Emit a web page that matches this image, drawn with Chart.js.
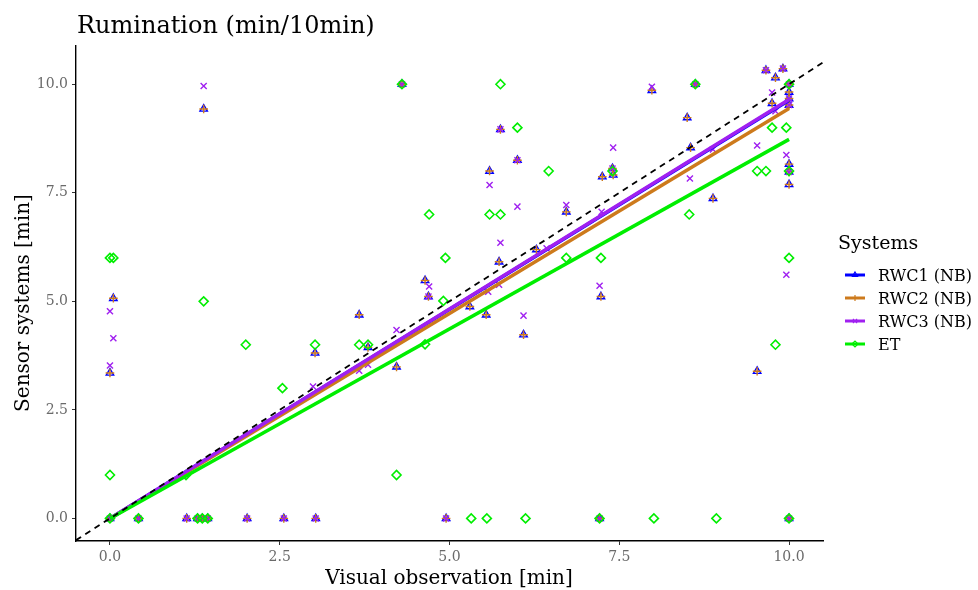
<!DOCTYPE html>
<html>
<head>
<meta charset="utf-8">
<script src="https://cdn.jsdelivr.net/npm/chart.js@4.4.0/dist/chart.umd.min.js"></script>
<style>
  html, body { margin: 0; padding: 0; background: #fff; }
  #wrap { width: 978px; height: 590px; position: relative; }
</style>
</head>
<body>
<div id="wrap"><canvas id="chart" width="978" height="590"></canvas></div>
<script>
// data
const rwc1X = [0,0.42,1.13,1.29,1.36,1.44,2.02,2.56,3.03,4.95,7.21,10, 0,0.05,1.38,3.02,3.67,3.80,4.22,4.30,4.64,4.69, 5.30,5.54,5.59,5.73,5.75,6.00,6.09,6.28,6.72,7.23, 7.25,7.40,7.41,7.98,8.50,8.55,8.62,8.88,9.53,9.66, 9.75,9.80,9.91,10,10,10,10,10,10,10];
const rwc1Y = [0,0,0,0,0,0,0,0,0,0,0,0, 3.35,5.07,9.43,3.81,4.69,3.94,3.49,10.0,5.48,5.11, 4.88,4.69,8.0,5.91,8.96,8.25,4.23,6.19,7.06,5.11, 7.87,8.06,7.91,9.86,9.23,8.54,10.0,7.37,3.39,10.32, 9.56,10.15,10.36,10.0,9.82,9.67,9.52,8.16,7.98,7.69];
const rwc2X = [0,0.42,1.13,1.29,1.36,1.44,2.02,2.56,3.03,4.95,7.21,10, 0,0.05,1.38,3.02,3.67,3.80,4.22,4.30,4.64,4.69, 5.30,5.54,5.59,5.73,5.75,6.00,6.09,6.28,6.72,7.23, 7.25,7.40,7.41,7.98,8.50,8.55,8.62,8.88,9.53,9.66, 9.75,9.80,9.91,10,10,10,10,10,10,10];
const rwc2Y = [0,0,0,0,0,0,0,0,0,0,0,0, 3.35,5.07,9.43,3.81,4.69,3.94,3.49,10.0,5.48,5.11, 4.88,4.69,8.0,5.91,8.96,8.25,4.23,6.19,7.06,5.11, 7.87,8.06,7.91,9.86,9.23,8.54,10.0,7.37,3.39,10.32, 9.56,10.15,10.36,10.0,9.82,9.67,9.52,8.16,7.98,7.69];
const rwc3X = [0,0.42,1.13,1.29,1.36,1.44,2.02,2.56,3.03,4.95,7.21,10, 0,0.05,0,1.38,2.99,3.67,3.80,4.22,4.30,4.70, 4.69,5.57,5.73,5.59,5.75,5.75,6.00,6.00,6.09,6.43, 6.72,7.21,7.24,7.41,7.40,7.98,8.54,8.62,8.88,9.53, 9.66,9.75,9.80,9.91,10,10,9.96,10,9.96,10];
const rwc3Y = [0,0,0,0,0,0,0,0,0,0,0,0, 4.77,4.15,3.52,9.96,3.04,3.40,3.54,4.34,10.0,5.34, 5.11,5.22,5.38,7.68,6.35,8.96,7.18,8.25,4.67,6.22, 7.22,5.36,7.06,8.54,8.06,9.94,7.83,10.0,8.50,8.59, 10.32,9.81,9.38,10.36,10.0,9.67,8.37,7.98,5.61,9.52];
const etX = [0,0.42,1.29,1.36,1.44,5.32,5.55,6.12,7.21,8.01,8.93,10, 0,0.05,0,1.12,1.38,2.00,2.54,3.02,3.67,3.80, 4.22,4.30,4.64,4.70,4.91,4.94,5.59,5.75,5.75,6.00, 6.46,6.72,7.23,7.40,8.53,8.62,9.53,9.66,9.75,9.80, 9.96,10,10,10];
const etY = [0,0,0,0,0,0,0,0,0,0,0,0, 6,6,1,1,5,4,3,4,4,4, 1,10,4.01,7,5.01,6,7,7,10,9, 8,6,6,8,7,10,8,8,9,4, 9,10,8,6];

// fitted lines through origin (values at x = 0 and x = 10)
const fitX = [0, 10];
const rwc1Fit = [0, 9.63];
const rwc2Fit = [0, 9.44];
const rwc3Fit = [0, 9.65];
const etFit = [0, 8.73];
const refX = [-0.5, 10.5];

const tickValues = [0, 2.5, 5, 7.5, 10];
const tickLabels = ['0.0', '2.5', '5.0', '7.5', '10.0'];
const seriesNames = ['RWC1 (NB)', 'RWC2 (NB)', 'RWC3 (NB)', 'ET'];
const seriesColors = ['#0000ff', '#cd7a1c', '#a020f0', '#00ee00'];
const seriesShapes = ['triangle', 'cross', 'crossRot', 'rectRot'];

const SERIF = '"DejaVu Serif", "Liberation Serif", serif';

function pts(xs, ys) { return xs.map((x, i) => ({x: x, y: ys[i]})); }

function scatterSet(i, xs, ys, order) {
  return {
    type: 'scatter', label: seriesNames[i], data: pts(xs, ys), order: order,
    pointStyle: seriesShapes[i], pointRadius: i === 3 ? 4.5 : 4.3,
    borderColor: seriesColors[i], backgroundColor: 'rgba(0,0,0,0)',
    pointBorderWidth: i === 3 ? 1.6 : 1.4
  };
}
function lineSet(i, fy, order) {
  return {
    type: 'line', label: seriesNames[i] + ' fit', data: pts(fitX, fy), order: order,
    borderColor: seriesColors[i], borderWidth: 3.5, pointRadius: 0, fill: false
  };
}

const legendAndTitles = {
  id: 'legendAndTitles',
  afterDraw(chart) {
    const c = chart.ctx;
    c.save();
    c.fillStyle = '#000';
    c.textBaseline = 'alphabetic';
    c.font = '24px ' + SERIF;
    c.textAlign = 'left';
    c.fillText('Rumination (min/10min)', 77, 33);

    c.font = '20px ' + SERIF;
    c.textAlign = 'center';
    c.fillText('Visual observation [min]', 449, 584);
    c.save();
    c.translate(29, 303);
    c.rotate(-Math.PI / 2);
    c.fillText('Sensor systems [min]', 0, 0);
    c.restore();

    // legend
    c.textAlign = 'left';
    c.font = '19px ' + SERIF;
    c.fillText('Systems', 838, 249);
    c.font = '16px ' + SERIF;
    seriesNames.forEach((name, i) => {
      const y = 275 + i * 23;
      c.strokeStyle = seriesColors[i];
      c.lineWidth = 3;
      c.beginPath(); c.moveTo(845, y); c.lineTo(865, y); c.stroke();
      if (Chart.helpers && Chart.helpers.drawPoint) {
        c.lineWidth = 1.2;
        c.fillStyle = 'rgba(0,0,0,0)';
        Chart.helpers.drawPoint(c, {pointStyle: seriesShapes[i], radius: 3, borderWidth: 1.2}, 855, y);
      }
      c.fillStyle = '#000';
      c.fillText(name, 878, y + 6);
    });
    c.restore();
  }
};

const axisCommon = {
  type: 'linear',
  grid: { drawOnChartArea: false, drawTicks: true, tickLength: 4, tickColor: '#333', lineWidth: 1 },
  border: { display: true, color: '#000', width: 1.4 },
  afterBuildTicks: (axis) => { axis.ticks = tickValues.map(v => ({value: v})); },
  ticks: {
    color: '#6a6a6a', font: { family: SERIF, size: 14 }, padding: 4,
    callback: (v) => tickLabels[tickValues.indexOf(v)]
  }
};

new Chart(document.getElementById('chart'), {
  data: {
    datasets: [
      {
        type: 'line', label: 'y = x', data: pts(refX, refX), order: 1,
        borderColor: '#000', borderWidth: 1.8, borderDash: [6, 5], pointRadius: 0, fill: false
      },
      lineSet(3, etFit, 2),
      lineSet(2, rwc3Fit, 3),
      lineSet(1, rwc2Fit, 4),
      lineSet(0, rwc1Fit, 5),
      scatterSet(3, etX, etY, 6),
      scatterSet(2, rwc3X, rwc3Y, 7),
      scatterSet(1, rwc2X, rwc2Y, 8),
      scatterSet(0, rwc1X, rwc1Y, 9)
    ]
  },
  options: {
    responsive: false,
    animation: false,
    layout: { padding: { top: 46, right: 155, bottom: 0, left: 0 } },
    plugins: { legend: { display: false }, tooltip: { enabled: false }, title: { display: false } },
    scales: {
      x: Object.assign({}, axisCommon, {
        position: 'bottom', min: -0.5, max: 10.5,
        afterFit: (s) => { s.height = 49; }
      }),
      y: Object.assign({}, axisCommon, {
        position: 'left', min: -0.52, max: 10.88,
        afterFit: (s) => { s.width = 76; }
      })
    }
  },
  plugins: [legendAndTitles]
});
</script>
</body>
</html>
